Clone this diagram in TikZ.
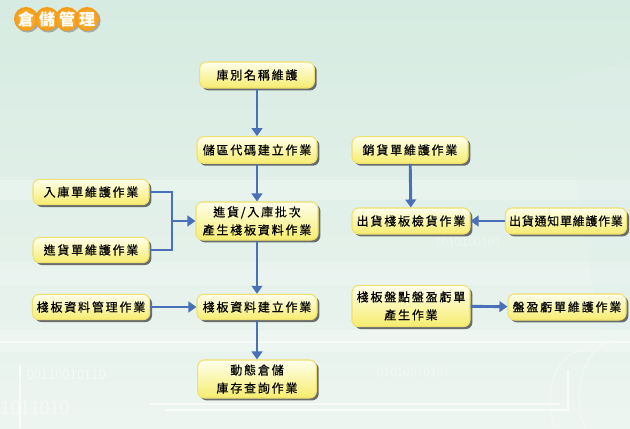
\documentclass[tikz,border=0pt]{standalone}
\usepackage{fontspec}
\newfontfamily\cjk[LetterSpace=15,FakeBold=0.6]{Noto Sans CJK TC}
\newfontfamily\cjkn[LetterSpace=6,FakeBold=0.6]{Noto Sans CJK TC}
\newfontfamily\cjkt[LetterSpace=0]{Noto Sans CJK TC}
\usetikzlibrary{arrows.meta,shadows,calc}
\definecolor{bgtop}{HTML}{D6EBE1}
\definecolor{bgbot}{HTML}{EDF5F0}
\definecolor{boxtop}{HTML}{FFFFEC}
\definecolor{boxbot}{HTML}{F6EC6E}
\definecolor{boxedge}{HTML}{F0E070}
\definecolor{arrowblue}{HTML}{4A70B8}
\definecolor{orangec}{HTML}{F59A12}
\definecolor{orangel}{HTML}{FBC15A}
\tikzset{
  box/.style={draw=boxedge, line width=0.8pt, rounded corners=5pt,
    top color=boxtop, bottom color=boxbot, align=center, inner sep=0pt,
    font=\cjk\fontsize{9}{13.5}\selectfont, text=black,
    drop shadow={shadow xshift=1.8pt, shadow yshift=-1.8pt, fill=black!75, opacity=0.75}},
  conn/.style={draw=arrowblue, line width=2.2pt},
  arr/.style={conn, -{Triangle[width=8pt,length=6pt]}},
  tcirc/.style={circle, minimum size=18pt, inner sep=0pt, draw=none,
    inner color=orangel, outer color=orangec,
    font=\cjkt\bfseries\fontsize{12}{13}\selectfont, text=white,
    drop shadow={shadow xshift=1.2pt, shadow yshift=-1.2pt, fill=black!50, opacity=0.6}},
  deco/.style={draw=white, line width=0.8pt, opacity=0.7},
  binary/.style={text=white, opacity=0.55, font=\sffamily}
}
\begin{document}
\begin{tikzpicture}[x=0.75pt,y=-0.75pt]
% background
\useasboundingbox (0,0) rectangle (630,428);
\shade[top color=bgtop, bottom color=bgbot] (0,0) rectangle (630,428);
\fill[white, opacity=0.25] (0,180) rectangle (630,200);
\fill[white, opacity=0.2] (0,262) rectangle (630,285);
\fill[white, opacity=0.25] (0,330) rectangle (630,352);
\fill[bgtop!70!teal!30, opacity=0.25] (560,80) -- (630,60) -- (630,330) -- (600,330) -- cycle;
% decorative lines
\draw[deco] (20,365) -- (20,428);
\draw[deco] (165,410) -- (568,410) -- (568,370);
\draw[deco, opacity=0.5] (0,342) -- (630,342);
\draw[deco, opacity=0.5] (150,404) -- (560,404);
\draw[deco, opacity=0.4] (555,428) .. controls (540,390) and (560,350) .. (585,350);
\draw[deco, opacity=0.4] (585,428) .. controls (570,390) and (585,345) .. (615,340);
\node[binary, anchor=west, font=\sffamily\fontsize{11}{12}\selectfont] (bin1) at (22,375) {00110010110};
\node[binary, anchor=west, font=\sffamily\fontsize{15}{16}\selectfont] (bin2) at (-4,408) {1011010};
\node[binary, anchor=west, opacity=0.4, font=\sffamily\fontsize{10}{12}\selectfont] (bin3) at (372,372) {01010010101};
\node[binary, anchor=west, opacity=0.35, font=\sffamily\fontsize{10}{12}\selectfont] (bin4) at (430,242) {1010100101};
% title
\node[tcirc] (t1) at (26,19) {倉};
\node[tcirc] (t2) at (47,19) {儲};
\node[tcirc] (t3) at (67,19) {管};
\node[tcirc] (t4) at (87,19) {理};
% boxes
\node[box, minimum width=86pt, minimum height=19.5pt] (a) at (257,75) {庫別名稱維護};
\node[box, minimum width=90pt, minimum height=20pt] (b) at (257,150) {儲區代碼建立作業};
\node[box, minimum width=87pt, minimum height=19pt] (in) at (91,192) {入庫單維護作業};
\node[box, minimum width=87pt, minimum height=19pt] (jin) at (91,250) {進貨單維護作業};
\node[box, minimum width=91.5pt, minimum height=28.5pt] (c) at (257,221) {進貨/入庫批次\\產生棧板資料作業};
\node[box, minimum width=88pt, minimum height=19pt] (m) at (91,307) {棧板資料管理作業};
\node[box, minimum width=90pt, minimum height=19pt] (g) at (257,307) {棧板資料建立作業};
\node[box, minimum width=89pt, minimum height=28.5pt] (h) at (257,379) {動態倉儲\\庫存查詢作業};
\node[box, minimum width=87pt, minimum height=20pt] (s) at (410,150) {銷貨單維護作業};
\node[box, minimum width=88.5pt, minimum height=19.5pt] (o) at (411,221) {出貨棧板檢貨作業};
\node[box, minimum width=91pt, minimum height=19.5pt, font=\cjkn\fontsize{9}{13.5}\selectfont] (n) at (566,221) {出貨通知單維護作業};
\node[box, minimum width=88.5pt, minimum height=31pt] (p) at (411,306) {棧板盤點盤盈虧單\\產生作業};
\node[box, minimum width=88.5pt, minimum height=19.5pt] (q) at (567,307) {盤盈虧單維護作業};
% connectors
\draw[arr] (a) -- (b);
\draw[arr] (b) -- (c);
\draw[arr] (c) -- (g);
\draw[arr] (g) -- (h);
\coordinate (mid) at (172,221);
\draw[conn] (in.east) -| (mid) |- (jin.east);
\draw[arr] (mid) -- (c.west);
\draw[arr] (m) -- (g);
\draw[arr] (s) -- (o);
\draw[arr] (n) -- (o);
\draw[arr] (p) -- (q);
\end{tikzpicture}
\end{document}
